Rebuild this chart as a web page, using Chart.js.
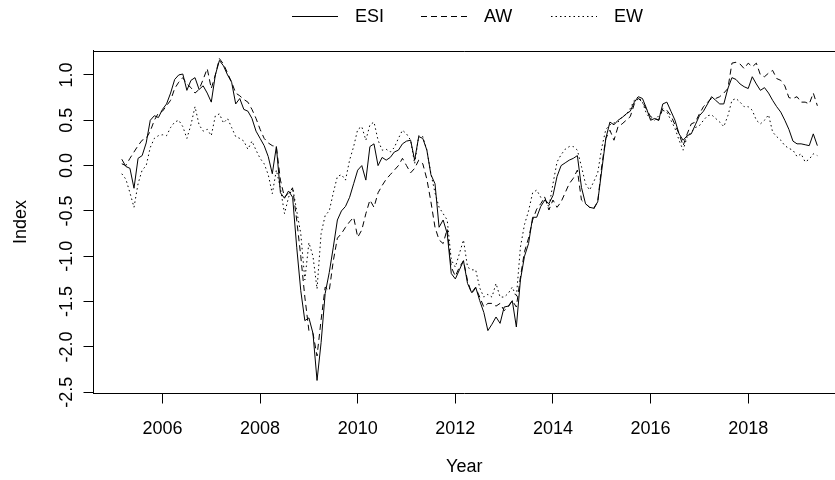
<!DOCTYPE html>
<html>
<head>
<meta charset="utf-8">
<script src="https://cdn.jsdelivr.net/npm/chart.js@4.4.1/dist/chart.umd.min.js"></script>
<style>
  html, body { margin: 0; padding: 0; background: #fff; }
  #wrap { width: 835px; height: 480px; }
</style>
</head>
<body>
<div id="wrap"><canvas id="indexChart" width="835" height="480"></canvas></div>
<script>
// monthly series, March 2005 .. June 2019
const startYear = 2005;
const startMonth = 3;

const esi = [
  0.07, -0.01, -0.03, -0.25, 0.08, 0.11, 0.25, 0.5, 0.55, 0.53, 0.62, 0.68,
  0.8, 0.95, 1.0, 1.01, 0.83, 0.94, 0.97, 0.84, 0.88, 0.8, 0.7, 1.0,
  1.16, 1.1, 1.0, 0.92, 0.68, 0.74, 0.62, 0.6, 0.52, 0.38, 0.3, 0.22,
  0.1, -0.09, 0.21, -0.3, -0.36, -0.28, -0.35, -0.9, -1.38, -1.71, -1.68, -1.85,
  -2.37, -1.95, -1.41, -1.18, -0.9, -0.6, -0.5, -0.45, -0.35, -0.2, -0.05, 0.0,
  -0.16, 0.21, 0.24, 0.0, 0.09, 0.06, 0.09, 0.15, 0.17, 0.24, 0.27, 0.28,
  0.06, 0.32, 0.3, 0.17, -0.1, -0.2, -0.68, -0.6, -0.75, -1.19, -1.25, -1.15,
  -1.05, -1.3, -1.4, -1.34, -1.49, -1.62, -1.82, -1.75, -1.67, -1.74, -1.56, -1.55,
  -1.49, -1.78, -1.26, -1.0, -0.86, -0.57, -0.57, -0.45, -0.38, -0.42, -0.33, -0.12,
  0.0, 0.03, 0.06, 0.08, 0.11, -0.24, -0.42, -0.46, -0.47, -0.4, -0.05, 0.3,
  0.48, 0.45, 0.5, 0.53, 0.57, 0.6, 0.7, 0.76, 0.74, 0.63, 0.5, 0.52,
  0.5, 0.68, 0.7, 0.6, 0.5, 0.35, 0.28, 0.33, 0.35, 0.45, 0.55, 0.6,
  0.68, 0.76, 0.72, 0.68, 0.68, 0.85, 0.97, 0.95, 0.9, 0.87, 0.85, 0.98,
  0.9, 0.83, 0.86, 0.8, 0.72, 0.65, 0.59, 0.5, 0.4, 0.27, 0.24, 0.24,
  0.23, 0.22, 0.35, 0.22
];

const aw = [
  0.02, 0.0, 0.08, 0.15, 0.22, 0.28, 0.3, 0.38, 0.5, 0.58, 0.6, 0.66,
  0.72, 0.85, 0.92, 0.97, 0.9, 0.86, 0.8, 0.84, 0.95, 1.07, 0.85, 1.0,
  1.18, 1.12, 1.02, 0.92, 0.8, 0.77, 0.73, 0.7, 0.62, 0.52, 0.4, 0.3,
  0.25, 0.22, 0.21, -0.16, -0.35, -0.3, -0.25, -0.6, -1.0, -1.45, -1.82, -1.85,
  -2.1, -1.7, -1.34, -1.38, -1.05, -0.8, -0.75, -0.68, -0.62, -0.57, -0.79, -0.71,
  -0.53, -0.38, -0.46, -0.3, -0.22, -0.15, -0.1, -0.05, 0.0, 0.08, 0.0, -0.08,
  -0.03, 0.06, 0.02, -0.15, -0.4, -0.68, -0.82, -0.86, -0.7, -1.12, -1.22, -1.12,
  -1.05, -1.27, -1.41, -1.35, -1.45, -1.56, -1.52, -1.52, -1.55, -1.52, -1.6, -1.56,
  -1.49, -1.56, -1.23, -0.95, -0.8, -0.6, -0.48, -0.42, -0.35, -0.49, -0.38, -0.46,
  -0.4, -0.3, -0.2, -0.14, -0.05, -0.38, -0.42, -0.46, -0.48, -0.4, 0.0, 0.3,
  0.39, 0.28, 0.43, 0.46, 0.5, 0.54, 0.68, 0.74, 0.7, 0.62, 0.54, 0.52,
  0.5, 0.63, 0.61, 0.55, 0.45, 0.35, 0.22, 0.35, 0.46, 0.48, 0.57, 0.65,
  0.7, 0.74, 0.74, 0.76, 0.8, 0.85, 1.13, 1.14, 1.12, 1.07, 1.13, 1.09,
  1.13, 1.0, 0.98, 1.02, 1.05, 0.96, 0.94, 0.88, 0.75, 0.74, 0.76, 0.7,
  0.7, 0.68, 0.8, 0.66
];

const ew = [
  -0.09, -0.15, -0.3, -0.46, -0.2, -0.05, 0.0, 0.2, 0.3, 0.33, 0.34, 0.33,
  0.42, 0.48, 0.5, 0.43, 0.3, 0.45, 0.65, 0.45, 0.38, 0.4, 0.33, 0.55,
  0.57, 0.47, 0.52, 0.42, 0.32, 0.3, 0.27, 0.18, 0.27, 0.17, 0.08, 0.02,
  -0.1, -0.31, -0.05, -0.25, -0.53, -0.35, -0.24, -0.5, -0.75, -1.26, -0.85, -1.0,
  -1.36, -0.75, -0.55, -0.5, -0.3, -0.12, -0.1, -0.16, 0.06, 0.21, 0.4, 0.43,
  0.28, 0.45, 0.48, 0.28, 0.17, 0.18, 0.15, 0.2, 0.3, 0.39, 0.35, 0.28,
  0.02, 0.33, 0.32, 0.17, -0.09, -0.3, -0.46, -0.53, -0.6, -1.04, -1.12, -0.97,
  -0.82, -1.12, -1.15, -1.15, -1.35, -1.45, -1.42, -1.45, -1.3, -1.45, -1.45, -1.41,
  -1.34, -1.45, -0.9, -0.65, -0.5, -0.3, -0.27, -0.35, -0.35, -0.46, -0.2, 0.04,
  0.12, 0.18, 0.21, 0.21, 0.17, -0.01, -0.2, -0.27, -0.18, -0.08, 0.2, 0.4,
  0.45, 0.47, 0.48, 0.54, 0.56, 0.63, 0.72, 0.76, 0.7, 0.57, 0.52, 0.5,
  0.55, 0.61, 0.59, 0.5, 0.41, 0.28, 0.17, 0.32, 0.37, 0.42, 0.44, 0.5,
  0.55, 0.56, 0.52, 0.48, 0.43, 0.55, 0.72, 0.74, 0.7, 0.65, 0.65, 0.61,
  0.5, 0.46, 0.5, 0.56, 0.37, 0.32, 0.28, 0.22, 0.19, 0.17, 0.1, 0.13,
  0.04, 0.07, 0.13, 0.11
];

const seriesNames = ['ESI', 'AW', 'EW'];
const yearTicks = [2006, 2008, 2010, 2012, 2014, 2016, 2018];
const indexTicks = [-2.5, -2.0, -1.5, -1.0, -0.5, 0.0, 0.5, 1.0];

const FONT = 'Liberation Sans, Arial, Helvetica, sans-serif';
const INK = '#000';
const DASHES = [[], [6, 4], [1.5, 3]];

const toPoints = vals => vals.map((v, i) => ({ x: startYear + (startMonth - 1 + i) / 12, y: v }));

// top edge of the R-style box (left and bottom come from the axes)
const boxTop = {
  id: 'boxTop',
  afterDraw(chart) {
    const { ctx, chartArea: a } = chart;
    ctx.save();
    ctx.strokeStyle = INK;
    ctx.lineWidth = 1;
    ctx.beginPath();
    ctx.moveTo(a.left, Math.round(a.top) + 0.5);
    ctx.lineTo(a.right, Math.round(a.top) + 0.5);
    ctx.stroke();
    ctx.restore();
  }
};

// legend row above the plot: line sample, then the label
const lineLegend = {
  id: 'lineLegend',
  afterDraw(chart) {
    const ctx = chart.ctx;
    const xs = [292, 421, 551];
    const y = 16.5;
    ctx.save();
    ctx.font = '18px ' + FONT;
    ctx.textBaseline = 'middle';
    ctx.fillStyle = INK;
    seriesNames.forEach((name, i) => {
      ctx.strokeStyle = INK;
      ctx.lineWidth = 1;
      ctx.setLineDash(DASHES[i]);
      ctx.beginPath();
      ctx.moveTo(xs[i], y);
      ctx.lineTo(xs[i] + 46, y);
      ctx.stroke();
      ctx.setLineDash([]);
      ctx.fillText(name, xs[i] + 63, y + 1);
    });
    ctx.restore();
  }
};

new Chart(document.getElementById('indexChart'), {
  type: 'line',
  data: {
    datasets: [esi, aw, ew].map((vals, i) => ({
      label: seriesNames[i],
      data: toPoints(vals),
      borderColor: INK,
      borderWidth: 1,
      borderDash: DASHES[i],
      pointRadius: 0,
      tension: 0,
      fill: false
    }))
  },
  options: {
    responsive: false,
    animation: false,
    devicePixelRatio: 1,
    layout: { padding: { top: 50.5, left: 0, right: 0, bottom: 0 } },
    plugins: {
      legend: { display: false },
      tooltip: { enabled: false }
    },
    scales: {
      x: {
        type: 'linear',
        bounds: 'data',
        min: 2004.587,
        max: 2019.778,
        afterBuildTicks: s => { s.ticks = yearTicks.map(v => ({ value: v })); },
        afterFit: s => { s.height = 86.5; },
        ticks: {
          color: INK, padding: 15, maxRotation: 0, autoSkip: false,
          font: { family: FONT, size: 18 },
          callback: v => String(v)
        },
        grid: { drawOnChartArea: false, drawTicks: true, tickLength: 10, color: INK },
        border: { display: true, color: INK },
        title: {
          display: true, text: 'Year', color: INK,
          font: { family: FONT, size: 18 },
          padding: { top: 0, bottom: 2 }
        }
      },
      y: {
        bounds: 'data',
        min: -2.5138,
        max: 1.2695,
        afterBuildTicks: s => { s.ticks = indexTicks.map(v => ({ value: v })); },
        afterFit: s => { s.width = 93.5; },
        ticks: {
          color: INK, padding: 1, minRotation: 90, maxRotation: 90,
          crossAlign: 'center', autoSkip: false,
          font: { family: FONT, size: 18 },
          callback: v => v.toFixed(1)
        },
        grid: { drawOnChartArea: false, drawTicks: true, tickLength: 10, color: INK },
        border: { display: true, color: INK },
        title: {
          display: true, text: 'Index', color: INK,
          font: { family: FONT, size: 18 },
          padding: { top: 10, bottom: 0 }
        }
      }
    }
  },
  plugins: [boxTop, lineLegend]
});
</script>
</body>
</html>
